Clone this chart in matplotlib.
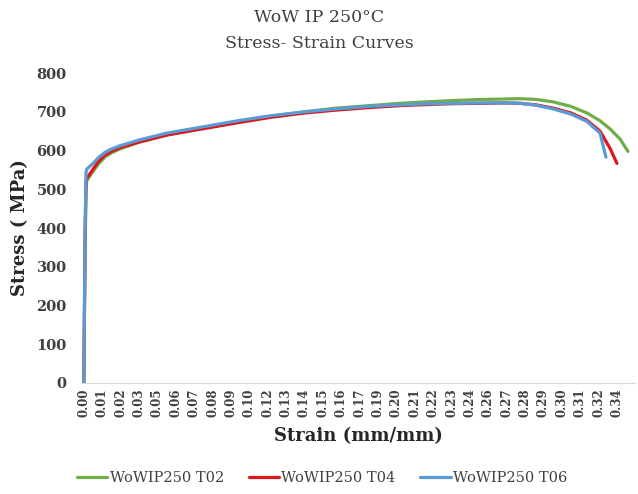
import numpy as np
import matplotlib.pyplot as plt

# category-axis labels (Excel style line chart, evenly spaced labels)
tick_labels = ['0.00', '0.01', '0.02', '0.03', '0.05', '0.06', '0.07', '0.08', '0.09', '0.10',
               '0.12', '0.13', '0.14', '0.15', '0.16', '0.17', '0.19', '0.20', '0.21', '0.22',
               '0.23', '0.24', '0.26', '0.27', '0.28', '0.29', '0.30', '0.31', '0.32', '0.34']

# curve points, x in category-label positions, stress in MPa
t02_x = [0.0, 0.03, 0.07, 0.12, 0.16, 0.3, 0.5, 0.8, 1.14, 1.5, 2.0, 2.98, 4.5, 6.56, 8.5, 10.19, 12.0,
         13.6, 15.5, 17.2, 18.7, 20.0, 21.6, 22.8, 23.74, 24.6, 25.5, 26.5, 27.37, 28.08, 28.62,
         29.16, 29.6]
t02_y = [0, 150, 350, 500, 522, 532, 546, 566, 583, 594, 605, 621, 640, 659, 676, 689, 700,
         709, 716, 722, 726, 729, 732, 733, 734, 732, 726, 714, 697, 677, 656,
         630, 598]

t04_x = [0.0, 0.03, 0.07, 0.12, 0.16, 0.3, 0.5, 0.8, 1.14, 1.5, 2.0, 2.98, 4.5, 6.56, 8.5, 10.19, 12.0,
         13.6, 15.5, 17.2, 18.7, 20.0, 21.6, 22.8, 23.74, 24.6, 25.5, 26.5, 27.37, 28.08, 28.62,
         29.0]
t04_y = [0, 160, 380, 520, 530, 538, 552, 572, 588, 598, 608, 622, 640, 657, 673, 686, 697,
         704, 711, 716, 719, 721, 722, 723, 722, 718, 710, 697, 678, 650, 606,
         567]

t06_x = [0.0, 0.03, 0.07, 0.12, 0.16, 0.3, 0.5, 0.8, 1.14, 1.5, 2.0, 2.98, 4.5, 6.56, 8.5, 10.19, 12.0,
         13.6, 15.5, 17.2, 18.7, 20.0, 21.6, 22.8, 23.74, 24.6, 25.5, 26.5, 27.37, 28.08, 28.4]
t06_y = [0, 170, 400, 545, 552, 558, 567, 582, 595, 604, 613, 627, 645, 662, 678, 690, 700,
         707, 714, 718, 721, 722, 723, 723, 722, 717, 708, 694, 675, 645, 583]

names = ['WoWIP250 T02', 'WoWIP250 T04', 'WoWIP250 T06']
colors = ['#70ad47', '#e0141b', '#5b9bd5']

fig = plt.figure(figsize=(6.38, 4.94), dpi=100)
ax = fig.add_axes([0.1285, 0.2247, 0.8665, 0.6273])

for xs, ys, name, c in zip([t02_x, t04_x, t06_x], [t02_y, t04_y, t06_y], names, colors):
    ax.plot(xs, ys, color=c, lw=2.3, label=name, solid_capstyle='round', solid_joinstyle='round')

ax.set_xlim(-0.1, 29.97)
ax.set_ylim(0, 800)
ax.set_yticks(np.arange(0, 801, 100))
ax.set_xticks(np.arange(len(tick_labels)))
ax.set_xticklabels(tick_labels, rotation=90, family='DejaVu Serif', fontweight='bold',
                   fontsize=8.5, color='#404040')
for lab in ax.get_yticklabels():
    lab.set_family('DejaVu Serif')
    lab.set_fontweight('bold')
    lab.set_fontsize(10.5)
    lab.set_color('#404040')
ax.tick_params(axis='both', length=0)
ax.tick_params(axis='y', pad=11)
ax.tick_params(axis='x', pad=4)

for s in ['top', 'right', 'left']:
    ax.spines[s].set_visible(False)
ax.spines['bottom'].set_color('#d9d9d9')

ax.set_ylabel('Stress ( MPa)', family='DejaVu Serif', fontweight='bold', fontsize=13,
              color='#262626', labelpad=5)
ax.set_xlabel('Strain (mm/mm)', family='DejaVu Serif', fontweight='bold', fontsize=13,
              color='#262626', labelpad=7)

fig.text(0.5, 0.965, 'WoW IP 250°C', ha='center', va='center', family='DejaVu Serif',
         fontsize=12.5, color='#404040')
fig.text(0.5, 0.912, 'Stress- Strain Curves', ha='center', va='center', family='DejaVu Serif',
         fontsize=12.5, color='#404040')

leg = fig.legend(loc='center', bbox_to_anchor=(0.505, 0.032), ncol=3, frameon=False,
                 handlelength=2.1, handletextpad=0.15, columnspacing=1.7,
                 prop={'family': 'DejaVu Serif', 'size': 10.5})
for t in leg.get_texts():
    t.set_color('#404040')

fig.savefig('out.png', dpi=100)
